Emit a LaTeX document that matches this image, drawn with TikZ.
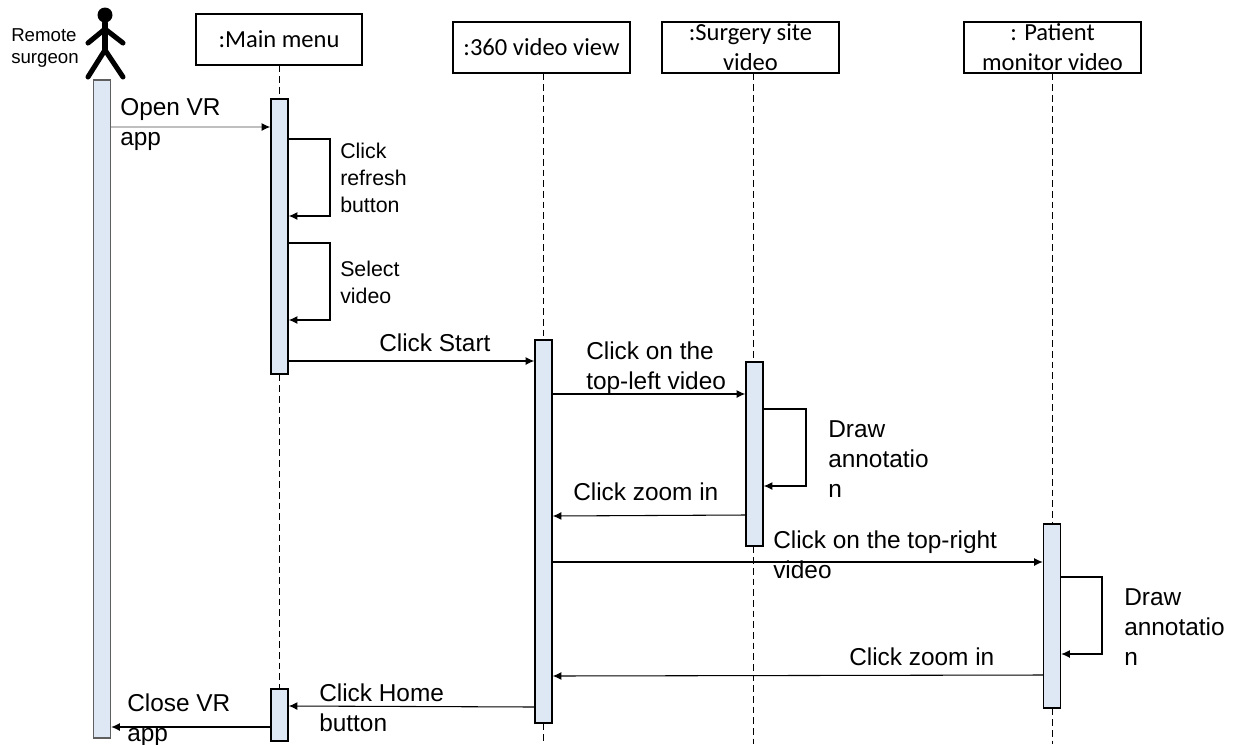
\documentclass[tikz,border=0pt]{standalone}
\usepackage{fontspec}
\setmainfont{Liberation Sans}
\newfontfamily\boxfont{Carlito}
\usetikzlibrary{arrows.meta, calc}
\definecolor{barblue}{RGB}{222, 232, 244}
\definecolor{bargray}{RGB}{95, 95, 95}
\def\px{0.75pt}
\tikzset{
    headbox/.style={draw, rectangle, line width=0.9pt, minimum width=177*\px, minimum height=51*\px, inner sep=0pt, align=center, font=\boxfont\fontsize{18.4}{22.5}\selectfont},
    lifebar/.style={draw, rectangle, line width=1.1pt, fill=barblue, minimum width=17*\px, inner sep=0pt},
    lifeline/.style={dashed, line width=0.7pt, dash pattern=on 5pt off 3pt},
    msgarrow/.style={-{Latex[length=6.5pt, width=6pt]}, line width=0.8pt},
    msglabel/.style={anchor=north west, inner sep=0pt, align=left, font=\fontsize{18.3}{22.5}\selectfont},
    selflabel/.style={anchor=north west, inner sep=0pt, align=left, font=\fontsize{16}{20}\selectfont},
    limb/.style={line width=3.8pt, line cap=round, line join=round},
}
\begin{document}
\begin{tikzpicture}[x=0.75pt, y=-0.75pt]
    \useasboundingbox (0,0) rectangle (1236,744);

    % Actor
    \node[circle, fill=black, minimum size=15*\px, inner sep=0pt] (head) at (105,15) {};
    \coordinate (neck) at (105,29);
    \coordinate (hip) at (105,50);
    \coordinate (handl) at (88,43);
    \coordinate (handr) at (123,43);
    \coordinate (footl) at (88,77);
    \coordinate (footr) at (123,77);
    \draw[limb] (head) -- (hip);
    \draw[limb] (handl) -- (neck) -- (handr);
    \draw[limb] (footl) -- (hip) -- (footr);
    \node[font=\fontsize{14}{17}\selectfont, align=left, inner sep=0pt] (surgeon) at (45,48) {Remote\\surgeon};

    % Head boxes
    \node[headbox, minimum width=166*\px] (main) at (279,39.5) {:Main menu};
    \node[headbox] (view) at (541.5,47.5) {:360 video view};
    \node[headbox] (site) at (750.5,47.5) {:Surgery site\\video};
    \node[headbox] (monitor) at (1052.5,47.5) {: Patient\\monitor video};

    % Activation bars
    \node[lifebar, draw=bargray, minimum height=658*\px] (surgeonbar) at (102,409) {};
    \node[lifebar, minimum height=275*\px] (mainbar) at (279.5,236.5) {};
    \node[lifebar, minimum height=52*\px] (homebar) at (279.5,715) {};
    \node[lifebar, minimum height=383*\px] (viewbar) at (543.5,531.5) {};
    \node[lifebar, minimum height=184*\px] (sitebar) at (754.5,454) {};
    \node[lifebar, minimum height=184*\px] (monitorbar) at (1052,616) {};

    % Lifelines
    \coordinate (viewend) at (543,744);
    \coordinate (siteend) at (753,744);
    \coordinate (monitorend) at (1052,744);
    \draw[lifeline] (main) -- (main |- mainbar.north);
    \draw[lifeline] (main |- mainbar.south) -- (main |- homebar.north);
    \draw[lifeline] (viewend |- view.south) -- (viewend |- viewbar.north);
    \draw[lifeline] (viewend |- viewbar.south) -- (viewend);
    \draw[lifeline] (siteend |- site.south) -- (siteend |- sitebar.north);
    \draw[lifeline] (siteend |- sitebar.south) -- (siteend);
    \draw[lifeline] (monitorend |- monitor.south) -- (monitorend |- monitorbar.north);
    \draw[lifeline] (monitorend |- monitorbar.south) -- (monitorend);

    % Message heights
    \coordinate (open) at (0,127);
    \coordinate (refreshtop) at (330,139);
    \coordinate (refreshend) at (330,216);
    \coordinate (selecttop) at (330,243);
    \coordinate (selectend) at (330,320);
    \coordinate (start) at (0,361);
    \coordinate (topleft) at (0,394);
    \coordinate (drawtop) at (806,409);
    \coordinate (drawend) at (806,486);
    \coordinate (zoomsite) at (0,515);
    \coordinate (zoomview) at (0,516);
    \coordinate (topright) at (0,562);
    \coordinate (drawtopb) at (1102,577);
    \coordinate (drawendb) at (1102,654);
    \coordinate (zoommon) at (0,675);
    \coordinate (zoomback) at (0,676);
    \coordinate (homeview) at (0,707);
    \coordinate (homemain) at (0,706);
    \coordinate (close) at (0,727);

    % Messages
    \draw[line width=0.8pt, draw=black!25, -{Latex[length=6.5pt, width=6pt, black]}] (surgeonbar.east |- open) -- (mainbar.west |- open);
    \draw[msgarrow] (mainbar.east |- refreshtop) -- (refreshtop) -- (refreshend) -- (mainbar.east |- refreshend);
    \draw[msgarrow] (mainbar.east |- selecttop) -- (selecttop) -- (selectend) -- (mainbar.east |- selectend);
    \draw[msgarrow] (mainbar.east |- start) -- (viewbar.west |- start);
    \draw[msgarrow] (viewbar.east |- topleft) -- (sitebar.west |- topleft);
    \draw[msgarrow] (sitebar.east |- drawtop) -- (drawtop) -- (drawend) -- (sitebar.east |- drawend);
    \draw[msgarrow] (sitebar.west |- zoomsite) -- (viewbar.east |- zoomview);
    \draw[msgarrow] (viewbar.east |- topright) -- (monitorbar.west |- topright);
    \draw[msgarrow] (monitorbar.east |- drawtopb) -- (drawtopb) -- (drawendb) -- (monitorbar.east |- drawendb);
    \draw[msgarrow] (monitorbar.west |- zoommon) -- (viewbar.east |- zoomback);
    \draw[msgarrow] (viewbar.west |- homeview) -- (homebar.east |- homemain);
    \draw[msgarrow] (homebar.west |- close) -- (surgeonbar.east |- close);

    % Labels
    \node[msglabel] (openlbl) at (120,98) {Open VR\\app};
    \node[selflabel] (refreshlbl) at (340,143) {Click\\refresh\\button};
    \node[selflabel] (selectlbl) at (340,261) {Select\\video};
    \node[msglabel] (startlbl) at (379,334) {Click Start};
    \node[msglabel] (topleftlbl) at (586,342) {Click on the\\top-left video};
    \node[msglabel] (drawlbl) at (828,420) {Draw\\annotatio\\n};
    \node[msglabel] (zoomlbl) at (573,483) {Click zoom in};
    \node[msglabel] (toprightlbl) at (773,531) {Click on the top-right\\video};
    \node[msglabel] (drawblbl) at (1124,588) {Draw\\annotatio\\n};
    \node[msglabel] (zoomblbl) at (849,648) {Click zoom in};
    \node[msglabel] (homelbl) at (319,684) {Click Home\\button};
    \node[msglabel] (closelbl) at (127,694) {Close VR\\app};
\end{tikzpicture}
\end{document}
